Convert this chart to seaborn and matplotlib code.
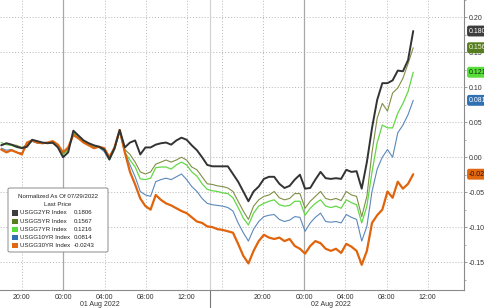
import numpy as np
import pandas as pd
import matplotlib
matplotlib.use("Agg")
import matplotlib.pyplot as plt
import matplotlib.transforms as mtransforms
from matplotlib.patches import FancyBboxPatch, Rectangle
from matplotlib import font_manager
import seaborn as sns

sns.set_theme(style="white")
plt.rcParams["font.family"] = ["Liberation Sans", "DejaVu Sans"]

# ---------------- data ----------------
# time axis: trading hours since 00:00 01 Aug 2022 (compressed Bloomberg session axis)
hours = np.arange(-6.0, 34.01, 0.5)

usgg2yr = [.017, .020, .018, .015, .013, .015, .025, .023, .021, .020, .021, .014,
           .000, .007, .038, .031, .024, .020, .017, .015, .011, -.003, .013, .039,
           .014, .021, .024, .004, .014, .014, .018, .020, .021, .018, .024, .028,
           .025, .017, .010, .000, -.011, -.013, -.013, -.013, -.013, -.024, -.035, -.049,
           -.063, -.049, -.042, -.031, -.028, -.028, -.038, -.044, -.041, -.032, -.025, -.045,
           -.044, -.032, -.021, -.030, -.031, -.030, -.031, -.018, -.021, -.020, -.045, -.007,
           .042, .082, .106, .106, .110, .124, .123, .139, .1806]
usgg5yr = [.018, .020, .018, .017, .014, .018, .024, .021, .021, .020, .021, .015,
           .004, .010, .035, .030, .023, .020, .017, .015, .010, -.003, .013, .038,
           .011, .004, -.007, -.021, -.024, -.021, -.010, -.007, -.004, -.007, -.004, .000,
           -.004, -.014, -.018, -.028, -.038, -.039, -.041, -.042, -.044, -.049, -.063, -.077,
           -.089, -.070, -.061, -.056, -.054, -.049, -.058, -.061, -.059, -.052, -.052, -.073,
           -.063, -.056, -.049, -.059, -.061, -.059, -.062, -.049, -.054, -.056, -.085, -.056,
           .007, .056, .077, .066, .092, .099, .113, .134, .1567]
usgg7yr = [.021, .018, .017, .014, .013, .017, .023, .021, .020, .021, .020, .015,
           .004, .011, .034, .028, .023, .018, .015, .014, .010, -.004, .011, .038,
           .007, -.004, -.014, -.031, -.032, -.030, -.015, -.014, -.014, -.017, -.011, -.007,
           -.011, -.021, -.027, -.038, -.046, -.048, -.049, -.051, -.052, -.058, -.072, -.087,
           -.097, -.080, -.070, -.066, -.063, -.061, -.068, -.070, -.069, -.063, -.063, -.083,
           -.073, -.066, -.061, -.070, -.072, -.070, -.073, -.061, -.065, -.068, -.094, -.070,
           -.021, .021, .046, .042, .042, .063, .077, .094, .1216]
usgg10yr = [.013, .010, .011, .007, .006, .017, .023, .020, .020, .021, .020, .017,
            .006, .013, .032, .027, .021, .018, .014, .014, .008, -.004, .011, .037,
            .007, -.011, -.028, -.049, -.054, -.056, -.035, -.032, -.030, -.032, -.028, -.024,
            -.032, -.042, -.049, -.059, -.066, -.068, -.069, -.070, -.072, -.077, -.094, -.108,
            -.120, -.103, -.092, -.085, -.083, -.082, -.089, -.092, -.090, -.085, -.086, -.106,
            -.094, -.086, -.080, -.092, -.093, -.092, -.094, -.082, -.086, -.089, -.120, -.099,
            -.049, -.017, .000, .011, .000, .035, .046, .061, .0814]
usgg30yr = [.011, .007, .010, .007, .004, .021, .024, .021, .020, .021, .023, .018,
            .007, .014, .032, .027, .021, .017, .013, .015, .013, .000, .014, .039,
            .007, -.021, -.039, -.059, -.070, -.075, -.054, -.061, -.066, -.069, -.073, -.077,
            -.080, -.086, -.092, -.094, -.099, -.100, -.103, -.104, -.106, -.108, -.124, -.141,
            -.152, -.134, -.120, -.111, -.115, -.117, -.115, -.120, -.117, -.127, -.131, -.138,
            -.127, -.120, -.123, -.131, -.134, -.131, -.137, -.124, -.128, -.134, -.154, -.134,
            -.094, -.083, -.075, -.049, -.058, -.035, -.045, -.038, -.0243]

series_names = ["USGG2YR Index", "USGG5YR Index", "USGG7YR Index", "USGG10YR Index", "USGG30YR Index"]
last_prices = [0.1806, 0.1567, 0.1216, 0.0814, -0.0243]
legend_title = "Normalized As Of 07/29/2022\nLast Price"

tick_positions = [-4, 0, 4.05, 8.05, 12, 19.4, 23.4, 27.4, 31.45, 35.4]
tick_labels = ["20:00", "00:00", "04:00", "08:00", "12:00",
               "20:00", "00:00", "04:00", "08:00", "12:00"]
midnights = [0, 23.4]
day_labels = ["01 Aug 2022", "02 Aug 2022"]
day_label_pos = [3.6, 26.0]
day_divider = 14.3
extra_dotted = [15.4]
y_ticks = [-0.15, -0.10, -0.05, 0.00, 0.05, 0.10, 0.15, 0.20]

values = [usgg2yr, usgg5yr, usgg7yr, usgg10yr, usgg30yr]
df = pd.DataFrame({
    "hours": np.tile(hours, len(series_names)),
    "value": np.concatenate([np.asarray(v, dtype=float) for v in values]),
    "series": np.repeat(series_names, len(hours)),
})

# ---------------- style ----------------
legend_colors = ["#3d3d3d", "#567d1f", "#57de3a", "#3170b3", "#e2680f"]
line_colors = ["#333333", "#7f8f45", "#62d846", "#5b88ba", "#e0640c"]
line_widths = [1.4, 0.8, 0.9, 0.8, 1.6]
box_text_colors = ["white", "#f0f5dc", "#0b300b", "white", "#2a1000"]
draw_order = [1, 2, 3, 4, 0]

installed = {f.name for f in font_manager.fontManager.ttflist}
if "Liberation Sans Narrow" in installed:
    leg_family, leg_size = ["Liberation Sans Narrow", "DejaVu Sans"], 5.2
else:
    leg_family, leg_size = ["Liberation Sans", "DejaVu Sans"], 4.4

W, H = 485, 308
fig = plt.figure(figsize=(W / 100, H / 100), dpi=100)
fig.patch.set_facecolor("white")
ax = fig.add_axes([0, 18 / H, 464 / W, 290 / H])
ax.set_facecolor("white")

for i in draw_order:
    sub = df[df["series"] == series_names[i]]
    sns.lineplot(data=sub, x="hours", y="value", ax=ax, color=line_colors[i],
                 linewidth=line_widths[i], zorder=3 + (i in (0, 4)), legend=False)

ax.set_xlim(-6.12, 38.93)
ax.set_ylim(-0.190, 0.2183)
ax.set_xlabel("")
ax.set_ylabel("")

# grid
grid_col = "#b5b5b5"
for y in y_ticks:
    ax.axhline(y, color=grid_col, lw=0.7, ls=(0, (1, 2)), zorder=1)
for x in tick_positions + extra_dotted:
    if x in midnights:
        ax.axvline(x, color="#a8a8a8", lw=0.9, zorder=1)
    else:
        ax.axvline(x, color=grid_col, lw=0.7, ls=(0, (1, 2)), zorder=1)
ax.axvline(day_divider, color="#d0d0d0", lw=0.8, zorder=1)

# spines
for s in ["left", "top"]:
    ax.spines[s].set_visible(False)
for s in ["right", "bottom"]:
    ax.spines[s].set_visible(True)
    ax.spines[s].set_color("#8a8a8a")
    ax.spines[s].set_linewidth(0.8)

# ticks
ax.yaxis.tick_right()
ax.set_yticks(y_ticks)
ax.set_yticklabels([f"{v:.2f}" for v in y_ticks])
ax.set_yticks([v + 0.025 for v in [-0.20] + y_ticks], minor=True)
ax.set_xticks(tick_positions)
ax.set_xticklabels(tick_labels)
ax.set_xticks([p + 2.0 for p in tick_positions], minor=True)
ax.tick_params(axis="y", which="major", direction="out", length=2.2, width=0.6,
               color="#8a8a8a", labelsize=5, labelcolor="#333333", pad=1.2,
               right=True, left=False)
ax.tick_params(axis="y", which="minor", direction="out", length=1.5, width=0.5,
               color="#8a8a8a", right=True, left=False)
ax.tick_params(axis="x", which="major", direction="out", length=2, width=0.6,
               color="#8a8a8a", labelsize=5, labelcolor="#333333", pad=0.8)
ax.tick_params(axis="x", which="minor", direction="out", length=1.5, width=0.5,
               color="#8a8a8a")

# date labels and divider under axis
tr = mtransforms.blended_transform_factory(ax.transData, ax.transAxes)
for lab, pos in zip(day_labels, day_label_pos):
    ax.text(pos, -0.05, lab, transform=tr, ha="center", va="center",
            fontsize=5, color="#333333", clip_on=False)
ax.plot([day_divider, day_divider], [0, -0.07], transform=tr, color="#777777",
        lw=0.8, clip_on=False)

# right-side last value boxes (cut by the figure edge as in the original)
tr_r = mtransforms.blended_transform_factory(ax.transAxes, ax.transData)
for i in range(len(series_names)):
    ax.text(469 / 464, last_prices[i], f"{last_prices[i]:.4f}", transform=tr_r,
            ha="left", va="center", fontsize=5, color=box_text_colors[i],
            clip_on=False, zorder=10,
            bbox=dict(boxstyle="round,pad=0.28,rounding_size=0.3",
                      fc=legend_colors[i], ec="none"))


# legend (manual, Bloomberg style)
def fx(px):
    return px / W


def fy(py):
    return 1 - py / H


box = FancyBboxPatch((fx(8), fy(252)), fx(100), 64 / H,
                     boxstyle="round,pad=0,rounding_size=0.004",
                     transform=fig.transFigure, fc="white", ec="#8c8c8c",
                     lw=0.7, zorder=20)
fig.patches.append(box)
t1, t2 = legend_title.split("\n")
for txt, py in ((t1, 196), (t2, 204)):
    fig.text(fx(58), fy(py), txt, ha="center", va="center", fontsize=leg_size,
             family=leg_family, color="#222222", zorder=21)
for i, name in enumerate(series_names):
    yy = 213 + 8.1 * i
    sq = Rectangle((fx(12.5), fy(yy + 2.6)), fx(5.2), 5.2 / H,
                   transform=fig.transFigure, fc=legend_colors[i], ec="none", zorder=21)
    fig.patches.append(sq)
    fig.text(fx(20), fy(yy), name, ha="left", va="center", fontsize=leg_size,
             family=leg_family, color="#222222", zorder=21)
    fig.text(fx(73.5), fy(yy), f"{last_prices[i]:.4f}", ha="left", va="center",
             fontsize=leg_size, family=leg_family, color="#222222", zorder=21)

fig.savefig("out.png", dpi=100)
